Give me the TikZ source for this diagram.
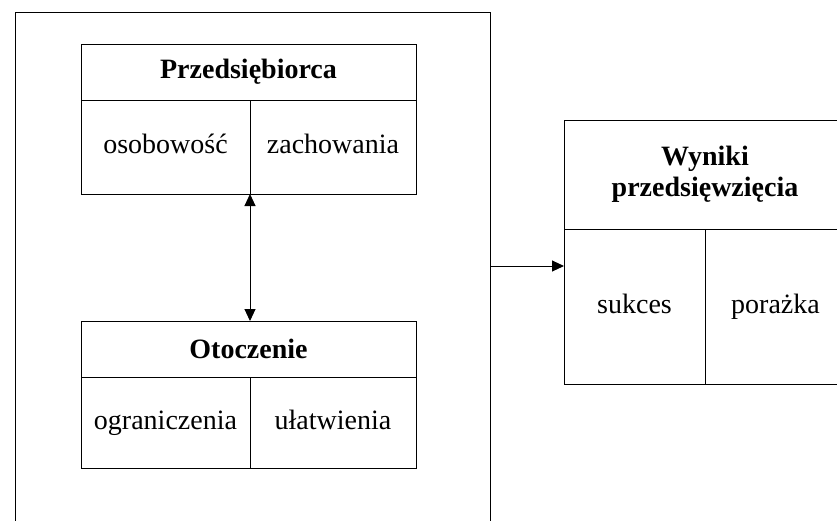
\documentclass[tikz,border=0pt]{standalone}
\usepackage{fontspec}
\setmainfont{Liberation Serif}
\usetikzlibrary{arrows.meta}

\tikzset{
	komorka/.style={draw,line width=1pt,inner sep=0pt,outer sep=0pt,align=center,
		font=\fontsize{28}{31}\selectfont},
	pole/.style={komorka,text height=19pt,text depth=6pt},
	naglowek/.style={komorka,font=\fontsize{28}{31}\selectfont\bfseries},
	grot/.tip={Triangle[length=12pt,width=11pt]},
	strzalka/.style={line width=1pt,-grot},
	dwustronna/.style={line width=1pt,grot-grot}
}

\begin{document}
\begin{tikzpicture}[x=1pt,y=-1pt]
		\clip (0,0) rectangle (837,520);
		\fill [white] (0,0) rectangle (837,520);
		\begin{scope}
			\node [komorka,minimum width=475,minimum height=518] (ramka) at (252.5,271) {};
			%
			\node [naglowek,minimum width=335,minimum height=56] (pNag) at (248.5,72) {Przedsiębiorca};
			\node [pole,minimum width=169,minimum height=94] (pOso) at (165.5,147) {osobowość};
			\node [pole,minimum width=166,minimum height=94] (pZach) at (333,147) {zachowania};
			%
			\node [naglowek,minimum width=335,minimum height=56] (oNag) at (248.5,349) {Otoczenie};
			\node [pole,minimum width=169,minimum height=91] (oOgr) at (165.5,422.5) {ograniczenia};
			\node [pole,minimum width=166,minimum height=91] (oUla) at (333,422.5) {ułatwienia};
		\end{scope}
		%
		\begin{scope}
			\node [naglowek,minimum width=282,minimum height=109] (wNag) at (705,174.5) {Wyniki\\przedsięwzięcia};
			\node [pole,minimum width=141,minimum height=155] (wSuk) at (634.5,306.5) {sukces};
			\node [pole,minimum width=141,minimum height=155] (wPor) at (775.5,306.5) {porażka};
		\end{scope}
		%
		\coordinate (wejscie) at (564,266);
		\draw [dwustronna] (pOso.south east) -- (pOso.south east |- oNag.north);
		\draw [strzalka] (ramka.east |- wejscie) -- (wSuk.west |- wejscie);
	\end{tikzpicture}
\end{document}
